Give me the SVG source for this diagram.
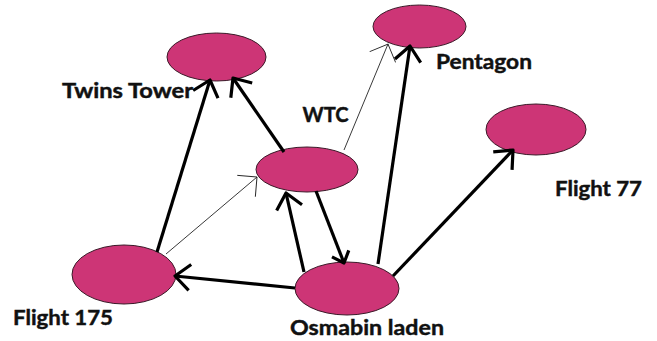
<svg xmlns="http://www.w3.org/2000/svg" width="657" height="341" viewBox="0 0 657 341">
  <style>
    .node { fill: #CD3576; stroke: #3a1a28; stroke-width: 1; }
    .lbl { font-family: Lato, "Open Sans", "Liberation Sans", sans-serif; font-weight: bold; font-size: 21.5px; fill: #111; stroke: #111; stroke-width: 0.45; }
    .thick { stroke: #000; stroke-width: 3.2; fill: none; marker-end: url(#arrowThick); }
    .thin { stroke: #222; stroke-width: 0.9; fill: none; marker-end: url(#arrowThin); }
  </style>
  <defs>
    <marker id="arrowThick" markerUnits="userSpaceOnUse" orient="auto" refX="0" refY="0" markerWidth="40" markerHeight="40" overflow="visible">
      <path d="M-15,-13 L0,0 L-15,13" fill="none" stroke="#000" stroke-width="3.2" stroke-linejoin="round"/>
    </marker>
    <marker id="arrowSmall" markerUnits="userSpaceOnUse" orient="auto" refX="0" refY="0" markerWidth="40" markerHeight="40" overflow="visible">
      <path d="M-10,-9 L0,0 L-10,9" fill="none" stroke="#000" stroke-width="3.2" stroke-linejoin="round"/>
    </marker>
    <marker id="arrowThin" markerUnits="userSpaceOnUse" orient="auto" refX="0" refY="0" markerWidth="40" markerHeight="40" overflow="visible">
      <path d="M-14,-14 L0,0 L-14,14" fill="none" stroke="#222" stroke-width="0.9"/>
    </marker>
  </defs>
  <rect width="657" height="341" fill="#fff"/>

  <g id="twins-tower">
    <ellipse class="node" cx="216.5" cy="57" rx="49.5" ry="24"/>
    <text class="lbl" x="62" y="98" textLength="131" lengthAdjust="spacingAndGlyphs">Twins Tower</text>
  </g>
  <g id="pentagon">
    <ellipse class="node" cx="419.5" cy="26.5" rx="46.5" ry="21.5"/>
    <text class="lbl" x="436" y="69" textLength="96" lengthAdjust="spacingAndGlyphs">Pentagon</text>
  </g>
  <g id="flight-77">
    <ellipse class="node" cx="536" cy="129.5" rx="50" ry="25.5"/>
    <text class="lbl" x="555" y="196" textLength="87" lengthAdjust="spacingAndGlyphs">Flight 77</text>
  </g>
  <g id="wtc">
    <ellipse class="node" cx="307" cy="169.5" rx="51" ry="22.5"/>
    <text class="lbl" x="302.5" y="122" textLength="46" lengthAdjust="spacingAndGlyphs">WTC</text>
  </g>
  <g id="flight-175">
    <ellipse class="node" cx="124" cy="274.5" rx="52" ry="29.5"/>
    <text class="lbl" x="13" y="325" textLength="100" lengthAdjust="spacingAndGlyphs">Flight 175</text>
  </g>
  <g id="osmabin-laden">
    <ellipse class="node" cx="347" cy="288.5" rx="52" ry="26.5"/>
    <text class="lbl" x="290" y="335" textLength="154" lengthAdjust="spacingAndGlyphs">Osmabin laden</text>
  </g>

  <g id="connectors">
    <path class="thick" d="M157,252 L210,80"/>
    <path class="thick" d="M284,152 L233,78"/>
    <path class="thin" d="M166,254 L257,177"/>
    <path class="thin" d="M344,150 L388,44"/>
    <path class="thick" d="M378,264 L410,46"/>
    <path class="thick" d="M393,276 L513,150"/>
    <path class="thick" d="M295,288 L175,276"/>
    <path class="thick" d="M304,272 L286,193"/>
    <path class="thick" d="M316,191 L344,263" style="marker-end: url(#arrowSmall)"/>
  </g>
</svg>
